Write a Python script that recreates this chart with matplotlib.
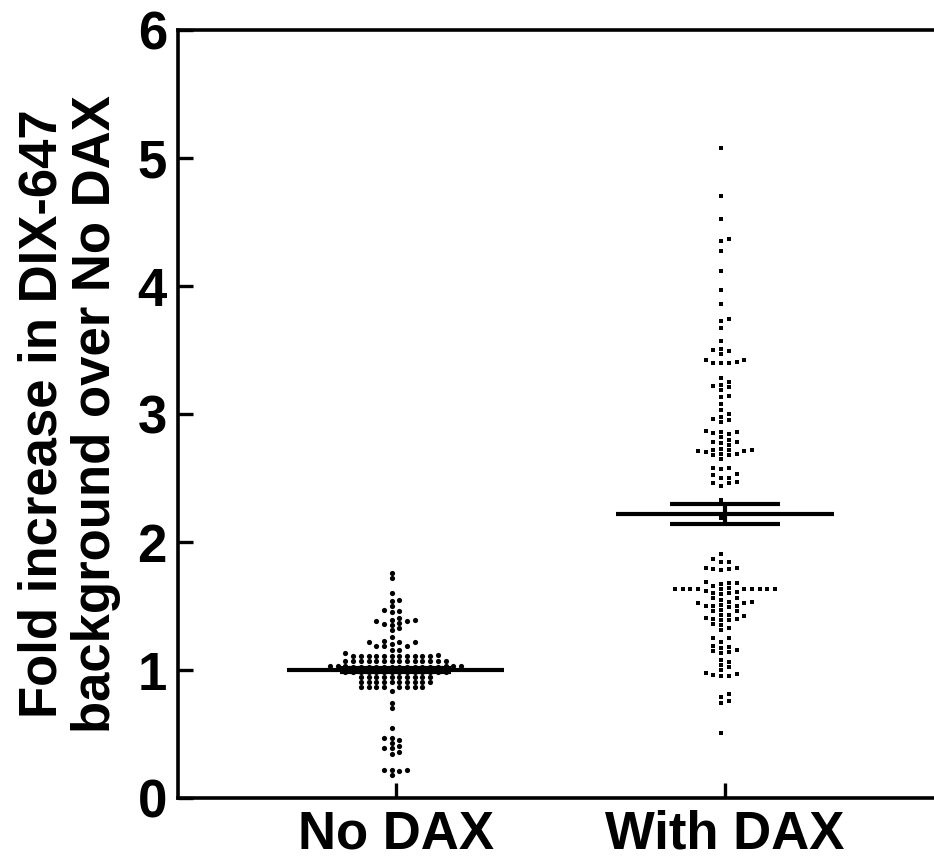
import numpy as np
import matplotlib
matplotlib.use('Agg')
import matplotlib.pyplot as plt

plt.rcParams['font.family'] = ['Liberation Sans', 'DejaVu Sans']
plt.rcParams['font.weight'] = 'bold'

# categories and values
groups = ['No DAX', 'With DAX']
group_means = [1.00, 2.22]
group_sems = [0.012, 0.08]

no_dax = [
    1.76, 1.72, 1.60, 1.55, 1.54, 1.50, 1.47, 1.46, 1.45, 1.41,
    1.39, 1.39, 1.38, 1.38, 1.37, 1.36, 1.35, 1.33, 1.31, 1.26,
    1.23, 1.22, 1.22, 1.22, 1.20, 1.19, 1.19, 1.19, 1.16, 1.16,
    1.13, 1.12,
    1.11, 1.11, 1.11, 1.11, 1.11, 1.11, 1.11, 1.11, 1.11, 1.11, 1.11,
    1.07, 1.07, 1.07, 1.07, 1.07, 1.07, 1.07, 1.07, 1.07, 1.07, 1.07,
    1.07, 1.07, 1.07,
    1.03, 1.03, 1.03, 1.03, 1.03, 1.03,
    1.025, 1.025, 1.025, 1.025, 1.025, 1.025, 1.025, 1.025, 1.025, 1.025,
    1.025, 1.025,
    0.985, 0.985, 0.985, 0.985, 0.985, 0.985, 0.985, 0.985, 0.985, 0.985,
    0.985, 0.985, 0.985, 0.985,
    0.945, 0.945, 0.945, 0.945, 0.945, 0.945, 0.945, 0.945, 0.945, 0.945,
    0.905, 0.905, 0.905, 0.905, 0.905, 0.905, 0.905, 0.905, 0.905, 0.905,
    0.865, 0.865, 0.865, 0.865, 0.865, 0.865, 0.865, 0.865,
    0.835,
    0.74, 0.70, 0.55, 0.47, 0.47, 0.45, 0.43, 0.41, 0.39, 0.39,
    0.36, 0.34, 0.22, 0.22, 0.22, 0.21, 0.18,
]

with_dax = [
    5.08, 4.70, 4.52, 4.37, 4.35, 4.27, 4.12, 3.97, 3.86, 3.74,
    3.73, 3.67, 3.57, 3.51, 3.50, 3.49, 3.47, 3.42, 3.42, 3.41,
    3.40, 3.40, 3.40, 3.28, 3.25, 3.23, 3.22, 3.21, 3.19, 3.14,
    3.13, 3.08, 3.03, 3.00, 2.98, 2.96, 2.95, 2.94, 2.87, 2.86,
    2.86, 2.85, 2.84, 2.82, 2.80, 2.78, 2.78, 2.77, 2.76, 2.73,
    2.72, 2.72, 2.72, 2.71, 2.71, 2.70, 2.69, 2.69, 2.68, 2.68,
    2.65, 2.58, 2.58, 2.57, 2.53, 2.52, 2.50, 2.50, 2.47, 2.46,
    2.46, 2.44, 2.33, 2.19,
    1.91, 1.87, 1.84, 1.84, 1.80, 1.80, 1.79, 1.79, 1.78, 1.69,
    1.68, 1.68, 1.67, 1.66, 1.64, 1.63, 1.63, 1.63, 1.63, 1.63,
    1.63, 1.63, 1.63, 1.63, 1.63, 1.62, 1.61, 1.60, 1.60, 1.59,
    1.56, 1.56, 1.55, 1.53, 1.53, 1.52, 1.52, 1.51, 1.50, 1.50,
    1.50, 1.49, 1.47, 1.46, 1.46, 1.43, 1.43, 1.42, 1.41, 1.40,
    1.40, 1.39, 1.39, 1.36, 1.35, 1.33, 1.31, 1.25, 1.25, 1.22,
    1.19, 1.18, 1.17, 1.16, 1.15, 1.14, 1.13, 1.08, 1.06, 1.04,
    1.02, 1.00, 0.98, 0.97, 0.96, 0.95, 0.95, 0.81, 0.79, 0.76,
    0.74, 0.51,
]

y_ticks = [0, 1, 2, 3, 4, 5, 6]


def swarm_offsets(values, min_dy, step):
    # put each point in the innermost half-step column where it doesn't hit a neighbour
    values = np.asarray(values)
    cols = []
    for k in range(40):
        cols += [-(k + 0.5), k + 0.5]
    last_y = {}
    offs = np.zeros(len(values))
    for i in np.argsort(values, kind='stable'):
        y = values[i]
        for c in cols:
            if c not in last_y or y - last_y[c] >= min_dy - 1e-9:
                last_y[c] = y
                offs[i] = c * step
                break
    return offs


fig = plt.figure(figsize=(9.34, 8.59), dpi=100)
ax = fig.add_axes([178 / 934, 1 - 798 / 859, 1 - 178 / 934, (798 - 30) / 859])

step = 0.0234
x0 = swarm_offsets(no_dax, 0.040, step)
x1 = swarm_offsets(with_dax, 0.034, step)
ax.scatter(0 + x0, no_dax, s=14, marker='o', color='black', linewidths=0, zorder=3)
ax.scatter(1 + x1, with_dax, s=12, marker='s', color='black', linewidths=0, zorder=3)

for i, (m, e) in enumerate(zip(group_means, group_sems)):
    ax.hlines(m, i - 0.33, i + 0.33, color='black', lw=3, zorder=4)
    ax.hlines([m - e, m + e], i - 0.167, i + 0.167, color='black', lw=3, zorder=4)
    ax.vlines(i, m - e, m + e, color='black', lw=3, zorder=4)

ax.set_xlim(-0.66, 1.634)
ax.set_ylim(0, 6)
ax.set_yticks(y_ticks)
ax.set_xticks([0, 1])
ax.set_xticklabels(groups)

for side in ['left', 'bottom', 'top']:
    ax.spines[side].set_linewidth(2.6)
ax.spines['right'].set_visible(False)

ax.tick_params(axis='both', direction='in', width=2.4, length=11, labelsize=38)
ax.tick_params(axis='y', pad=8)
ax.tick_params(axis='x', pad=8)
for lab in ax.get_xticklabels() + ax.get_yticklabels():
    lab.set_fontweight('bold')

ax.set_ylabel('Fold increase in DIX-647\nbackground over No DAX', fontsize=38,
              fontweight='bold', linespacing=1.08, labelpad=12)

fig.savefig('out.png', dpi=100)
